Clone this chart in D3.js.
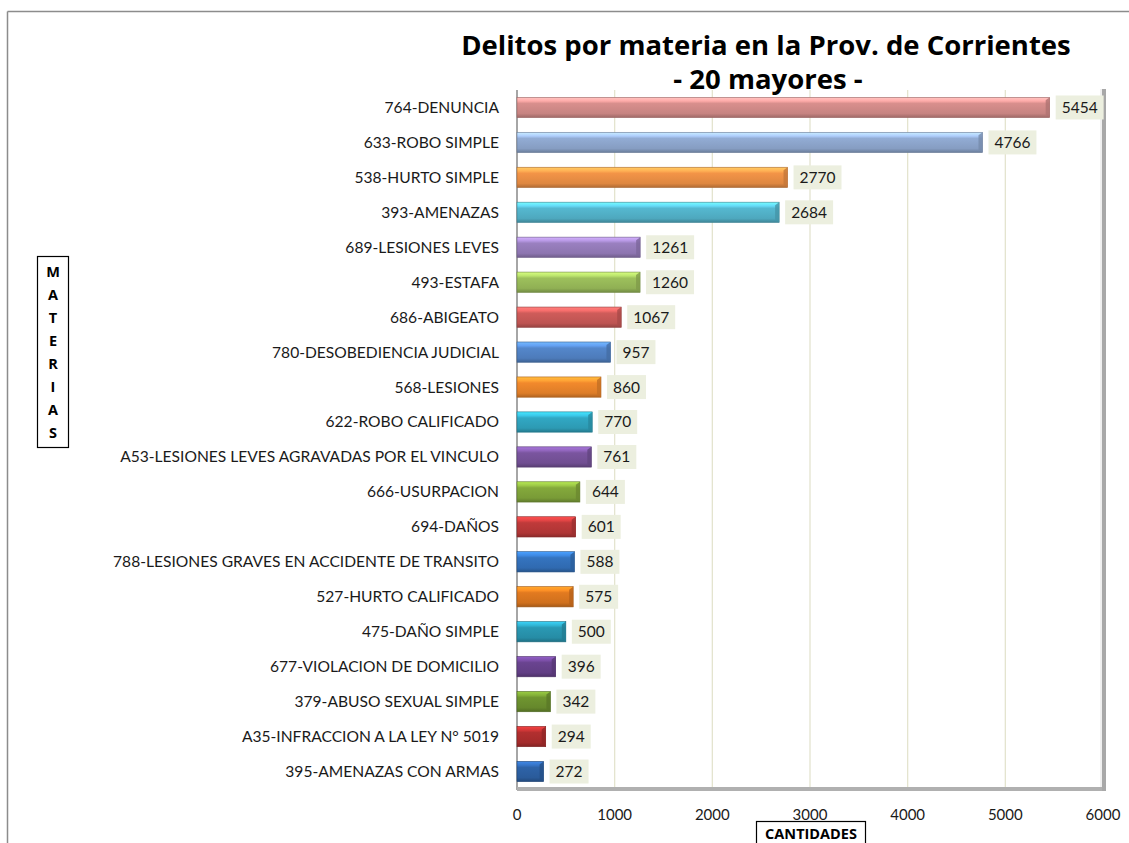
<!DOCTYPE html>
<html>
<head>
<meta charset="utf-8">
<script src="https://cdn.jsdelivr.net/npm/d3@7"></script>
<style>
  body { margin: 0; background: #fff; }
  text { font-family: Lato, "Open Sans", sans-serif; }
</style>
</head>
<body>
<div id="chart"></div>
<script>
// Chart data
const categories = [
  "764-DENUNCIA", "633-ROBO SIMPLE", "538-HURTO SIMPLE", "393-AMENAZAS",
  "689-LESIONES LEVES", "493-ESTAFA", "686-ABIGEATO", "780-DESOBEDIENCIA JUDICIAL",
  "568-LESIONES", "622-ROBO CALIFICADO", "A53-LESIONES LEVES AGRAVADAS POR EL VINCULO",
  "666-USURPACION", "694-DAÑOS", "788-LESIONES GRAVES EN ACCIDENTE DE TRANSITO",
  "527-HURTO CALIFICADO", "475-DAÑO SIMPLE", "677-VIOLACION DE DOMICILIO",
  "379-ABUSO SEXUAL SIMPLE", "A35-INFRACCION A LA LEY N° 5019", "395-AMENAZAS CON ARMAS"
];
const values = [5454, 4766, 2770, 2684, 1261, 1260, 1067, 957, 860, 770,
                761, 644, 601, 588, 575, 500, 396, 342, 294, 272];
const xTicks = [0, 1000, 2000, 3000, 4000, 5000, 6000];
const yLabelLetters = ["M", "A", "T", "E", "R", "I", "A", "S"];

// Bar colours, one per bar (Excel-like palette, getting darker down the list)
const barColors = [
  "#d98f8d", "#92acd4", "#f39447", "#55b8d0", "#9a80c0", "#9dc05c",
  "#cf5c5a", "#5487cb", "#f2892c", "#31a8c4", "#7a559f", "#84a93c",
  "#bf3a3a", "#3574c0", "#e27a20", "#2a99b4", "#6a4490", "#6f9530",
  "#b22f2f", "#2e63a8"
];

const W = 1129, H = 843;
const svg = d3.select("#chart").append("svg")
    .attr("width", W)
    .attr("height", H);

// outer chart frame (cropped on right and bottom)
svg.append("line").attr("x1", 7.5).attr("x2", W).attr("y1", 11.5).attr("y2", 11.5)
    .attr("stroke", "#8c8c8c").attr("stroke-width", 1.5);
svg.append("line").attr("x1", 7.5).attr("x2", 7.5).attr("y1", 11.5).attr("y2", H)
    .attr("stroke", "#8c8c8c").attr("stroke-width", 1.5);

const x = d3.scaleLinear().domain([0, 6000]).range([517, 1103]);
const y = d3.scaleBand().domain(categories).range([90, 789]).paddingInner(0.42).paddingOuter(0.21);

// gridlines
svg.append("g")
  .selectAll("line")
  .data(xTicks.slice(1))
  .enter().append("line")
    .attr("x1", d => x(d)).attr("x2", d => x(d))
    .attr("y1", 90).attr("y2", 789)
    .attr("stroke", "#e4e4cf").attr("stroke-width", 1.3);

// walls / floor (3d look)
svg.append("line").attr("x1", x(0)).attr("x2", x(0)).attr("y1", 90).attr("y2", 790)
    .attr("stroke", "#a6a6a6").attr("stroke-width", 2);
svg.append("rect").attr("x", x(0)).attr("y", 787).attr("width", x(6000) - x(0) + 2).attr("height", 4)
    .attr("fill", "#b0b0b0");
svg.append("rect").attr("x", x(6000) - 1).attr("y", 89).attr("width", 4).attr("height", 702)
    .attr("fill", "#a8a8a8");
svg.append("line").attr("x1", x(6000) - 2).attr("x2", x(6000) - 2).attr("y1", 89).attr("y2", 787)
    .attr("stroke", "#e0e0e0").attr("stroke-width", 1);

// gradients for bars
const defs = svg.append("defs");
barColors.forEach((c, i) => {
  const base = d3.color(c);
  const g = defs.append("linearGradient").attr("id", "grad" + i)
      .attr("x1", 0).attr("x2", 0).attr("y1", 0).attr("y2", 1);
  g.append("stop").attr("offset", "0%").attr("stop-color", base.brighter(0.9));
  g.append("stop").attr("offset", "18%").attr("stop-color", base.brighter(0.5));
  g.append("stop").attr("offset", "30%").attr("stop-color", base);
  g.append("stop").attr("offset", "80%").attr("stop-color", base.darker(0.25));
  g.append("stop").attr("offset", "100%").attr("stop-color", base.darker(0.9));
});

// bars
const bars = svg.append("g").selectAll("g")
  .data(values)
  .enter().append("g");

bars.append("rect")
    .attr("x", x(0))
    .attr("y", (d, i) => y(categories[i]))
    .attr("width", d => x(d) - x(0))
    .attr("height", y.bandwidth())
    .attr("fill", (d, i) => "url(#grad" + i + ")")
    .attr("stroke", (d, i) => d3.color(barColors[i]).darker(1))
    .attr("stroke-width", 0.6);

// end cap bevel
bars.append("path")
    .attr("d", (d, i) => {
      const x1 = x(d), y0 = y(categories[i]), h = y.bandwidth();
      return "M" + (x1 - 4) + "," + (y0 + 3) + "L" + x1 + "," + y0 +
             "L" + x1 + "," + (y0 + h) + "L" + (x1 - 4) + "," + (y0 + h - 3) + "Z";
    })
    .attr("fill", (d, i) => d3.color(barColors[i]).darker(0.6))
    .attr("opacity", 0.8);

// value labels with boxes
const labelFont = 15.5;
bars.each(function(d, i) {
  const gEl = d3.select(this);
  const cy = y(categories[i]) + y.bandwidth() / 2;
  const txt = gEl.append("text")
      .attr("x", x(d) + 12)
      .attr("y", cy)
      .attr("dy", "0.35em")
      .attr("font-size", labelFont)
      .attr("fill", "#1a1a1a")
      .text(d);
  const bb = txt.node().getBBox();
  gEl.insert("rect", "text")
      .attr("x", x(d) + 6)
      .attr("y", cy - 12)
      .attr("width", bb.width + 12)
      .attr("height", 24)
      .attr("fill", "#ecefdf");
});

// category labels
svg.append("g").selectAll("text")
  .data(categories)
  .enter().append("text")
    .attr("x", 499)
    .attr("y", d => y(d) + y.bandwidth() / 2)
    .attr("dy", "0.35em")
    .attr("text-anchor", "end")
    .attr("font-size", 15.6)
    .attr("fill", "#1a1a1a")
    .text(d => d);

// x tick labels
svg.append("g").selectAll("text")
  .data(xTicks)
  .enter().append("text")
    .attr("x", d => x(d))
    .attr("y", 815)
    .attr("dy", "0.35em")
    .attr("text-anchor", "middle")
    .attr("font-size", 15)
    .attr("fill", "#1a1a1a")
    .text(d => d);

// axis titles in boxes
svg.append("rect").attr("x", 756.5).attr("y", 821.5).attr("width", 109).attr("height", 26)
    .attr("fill", "#fff").attr("stroke", "#000").attr("stroke-width", 1.2);
svg.append("text").attr("x", 811).attr("y", 834).attr("dy", "0.35em")
    .attr("text-anchor", "middle").attr("font-size", 14.5).attr("font-weight", "bold")
    .style("font-family", "'Open Sans', sans-serif")
    .text("CANTIDADES");

svg.append("rect").attr("x", 37.5).attr("y", 256.5).attr("width", 31).attr("height", 191)
    .attr("fill", "#fff").attr("stroke", "#000").attr("stroke-width", 1.2);
svg.append("g").selectAll("text")
  .data(yLabelLetters)
  .enter().append("text")
    .attr("x", 53)
    .attr("y", (d, i) => 272 + i * 23)
    .attr("dy", "0.35em")
    .attr("text-anchor", "middle")
    .attr("font-size", 14.5)
    .attr("font-weight", "bold")
    .style("font-family", "'Open Sans', sans-serif")
    .text(d => d);

// title
svg.append("text").attr("x", 766).attr("y", 45).attr("dy", "0.35em")
    .attr("text-anchor", "middle").attr("font-size", 27.5).attr("font-weight", "bold")
    .style("font-family", "'Open Sans', sans-serif")
    .text("Delitos por materia en la Prov. de Corrientes");
svg.append("text").attr("x", 768).attr("y", 79).attr("dy", "0.35em")
    .attr("text-anchor", "middle").attr("font-size", 27.5).attr("font-weight", "bold")
    .style("font-family", "'Open Sans', sans-serif")
    .text("- 20 mayores -");
</script>
</body>
</html>
